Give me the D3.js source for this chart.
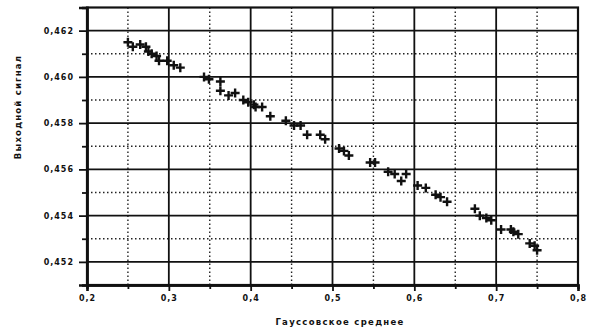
<!DOCTYPE html>
<html><head><meta charset="utf-8">
<script src="https://cdn.jsdelivr.net/npm/d3@7"></script>
<style>
body{margin:0;background:#fff;}
svg{display:block;}
text{font-family:"DejaVu Sans",sans-serif;font-weight:bold;fill:#111;}
</style></head>
<body>
<script>
const xVals = [0.250,0.256,0.265,0.272,0.275,0.279,0.285,0.288,0.298,0.306,0.314,0.343,0.349,0.363,0.363,0.373,0.381,0.391,0.397,0.404,0.406,0.414,0.424,0.443,0.453,0.461,0.469,0.485,0.491,0.508,0.514,0.520,0.546,0.552,0.568,0.576,0.584,0.590,0.604,0.614,0.626,0.632,0.640,0.674,0.680,0.688,0.694,0.706,0.718,0.721,0.727,0.741,0.747,0.750];
const yVals = [0.4615,0.4613,0.4614,0.4613,0.4611,0.4610,0.4609,0.4607,0.4607,0.4605,0.4604,0.4600,0.4599,0.4598,0.4594,0.4592,0.4593,0.4590,0.4589,0.4588,0.4587,0.4587,0.4583,0.4581,0.4579,0.4579,0.4575,0.4575,0.4573,0.4569,0.4568,0.4566,0.4563,0.4563,0.4559,0.4558,0.4555,0.4558,0.4553,0.4552,0.4549,0.4548,0.4546,0.4543,0.4540,0.4539,0.4538,0.4534,0.4534,0.4533,0.4532,0.4528,0.4527,0.4525];
const xTicks = [0.2,0.3,0.4,0.5,0.6,0.7,0.8];
const xTickLabels = ["0,2","0,3","0,4","0,5","0,6","0,7","0,8"];
const xMinor = [0.25,0.35,0.45,0.55,0.65,0.75];
const yTicks = [0.452,0.454,0.456,0.458,0.460,0.462];
const yTickLabels = ["0,452","0,454","0,456","0,458","0,460","0,462"];
const yMinor = [0.453,0.455,0.457,0.459,0.461];
const xTitle = "Гауссовское среднее";
const yTitle = "Выходной сигнал";

const W = 599, H = 334;
const L = 87, R = 578, T = 7.5, B = 285;
const x = d3.scaleLinear().domain([0.2,0.8]).range([L,R]);
const y = d3.scaleLinear().domain([0.451,0.463]).range([B,T]);

const svg = d3.select("body").append("svg").attr("width",W).attr("height",H);
svg.append("rect").attr("width",W).attr("height",H).attr("fill","#fff");

const g = svg.append("g");
// dotted minor grid
g.selectAll(".xm").data(xMinor).enter().append("line")
  .attr("x1",d=>x(d)).attr("x2",d=>x(d)).attr("y1",T).attr("y2",B)
  .attr("stroke","#222").attr("stroke-width",1.4).attr("stroke-dasharray","1.5,2.5");
g.selectAll(".ym").data(yMinor).enter().append("line")
  .attr("x1",L).attr("x2",R).attr("y1",d=>y(d)).attr("y2",d=>y(d))
  .attr("stroke","#222").attr("stroke-width",1.4).attr("stroke-dasharray","1.5,2.5");
// solid major grid
g.selectAll(".xM").data(xTicks.slice(1,-1)).enter().append("line")
  .attr("x1",d=>x(d)).attr("x2",d=>x(d)).attr("y1",T).attr("y2",B)
  .attr("stroke","#111").attr("stroke-width",1.8);
g.selectAll(".yM").data(yTicks).enter().append("line")
  .attr("x1",L).attr("x2",R).attr("y1",d=>y(d)).attr("y2",d=>y(d))
  .attr("stroke","#111").attr("stroke-width",1.8);
// frame
g.append("rect").attr("x",L).attr("y",T).attr("width",R-L).attr("height",B-T)
  .attr("fill","none").attr("stroke","#111").attr("stroke-width",2.2);

// axes
const xAxis = d3.axisBottom(x).tickValues(xTicks).tickSize(6).tickPadding(4)
  .tickFormat((d,i)=>xTickLabels[i]);
const xa = svg.append("g").attr("transform",`translate(0,${B})`).call(xAxis);
const xAxisMinor = d3.axisBottom(x).tickValues(xMinor).tickSize(4).tickFormat("");
const xam = svg.append("g").attr("transform",`translate(0,${B})`).call(xAxisMinor);
const yAxis = d3.axisLeft(y).tickValues(yTicks).tickSize(8).tickPadding(5)
  .tickFormat((d,i)=>yTickLabels[i]);
const ya = svg.append("g").attr("transform",`translate(${L},0)`).call(yAxis);
const yAxisMinor = d3.axisLeft(y).tickValues(yMinor).tickSize(5).tickFormat("");
const yam = svg.append("g").attr("transform",`translate(${L},0)`).call(yAxisMinor);
[xa,xam,ya,yam].forEach(a=>{
  a.select(".domain").attr("stroke","#111").attr("stroke-width",2.4);
  a.selectAll(".tick line").attr("stroke","#111").attr("stroke-width",1.8);
  a.selectAll(".tick text").attr("font-size","8px").attr("letter-spacing","1px")
   .attr("font-family","DejaVu Sans").attr("font-weight","bold").attr("fill","#111");
});

// points
svg.append("g").selectAll("path").data(xVals.map((v,i)=>[v,yVals[i]])).enter().append("path")
  .attr("transform",d=>`translate(${x(d[0])},${y(d[1])})`)
  .attr("d","M-4.5,0H4.5M0,-4.5V4.5")
  .attr("stroke","#111").attr("stroke-width",2.4).attr("fill","none");

// titles
svg.append("text").attr("x",340).attr("y",325).attr("text-anchor","middle")
  .attr("font-size","8.5px").attr("letter-spacing","1.3px").text(xTitle);
svg.append("text").attr("transform","translate(21,107) rotate(-90)").attr("text-anchor","middle")
  .attr("font-size","8.5px").attr("letter-spacing","1.2px").text(yTitle);
</script>
</body></html>
